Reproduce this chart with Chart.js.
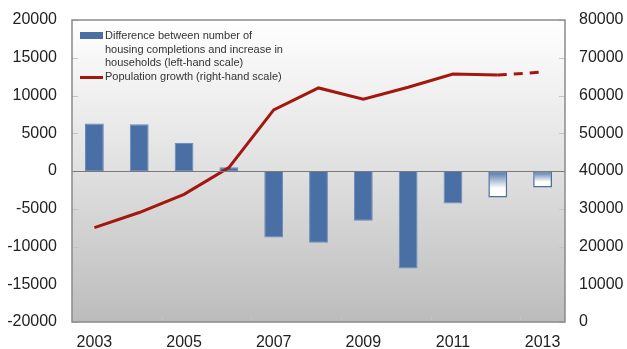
<!DOCTYPE html>
<html>
<head>
<meta charset="utf-8">
<script src="https://cdn.jsdelivr.net/npm/chart.js@4.4.0/dist/chart.umd.min.js"></script>
<style>
  html, body { margin: 0; padding: 0; background: #fff; }
  #wrap { position: relative; width: 627px; height: 349px; }
  #legend { position: absolute; left: 80px; top: 29px; font-family: "Liberation Sans", Arial, sans-serif; font-size: 11px; color: #333; line-height: 13.5px; }
  .row { position: relative; padding-left: 25px; }
  .sw { position: absolute; left: 0; }
</style>
</head>
<body>
<div id="wrap">
  <canvas id="chart" width="627" height="349"></canvas>
  <div id="legend">
    <div class="row"><span class="sw" style="top:3px;width:23px;height:7px;background:#4a6fa5;"></span>Difference between number of<br>housing completions and increase in<br>households (left-hand scale)</div>
    <div class="row"><span class="sw" style="top:6px;width:23px;height:3px;background:#a3170f;"></span>Population growth (right-hand scale)</div>
  </div>
</div>
<script>
const years = ['2003','2004','2005','2006','2007','2008','2009','2010','2011','2012','2013'];
// difference between housing completions and increase in households (left scale)
const housingDiff = [6300, 6200, 3700, 500, -8800, -9500, -6600, -12900, -4300, -3500, -2200];
// last two years are forecasts
const forecast = [false, false, false, false, false, false, false, false, false, true, true];
// population growth (right scale)
const popGrowth = [25000, 29000, 33800, 40900, 56200, 62000, 59000, 62200, 65700, 65400, 66200];
const leftTicks = [-20000, -15000, -10000, -5000, 0, 5000, 10000, 15000, 20000];
const rightTicks = [0, 10000, 20000, 30000, 40000, 50000, 60000, 70000, 80000];

const blue = '#4a6fa5';
const red = '#a3170f';
const font = { family: '"Liberation Sans", Arial, sans-serif', size: 16 };

const plotBg = {
    id: 'plotBg',
    beforeDraw(chart) {
        const { ctx, chartArea: a } = chart;
        const g = ctx.createLinearGradient(0, a.top, 0, a.bottom);
        g.addColorStop(0, '#ffffff');
        g.addColorStop(0.5, '#e0e0e0');
        g.addColorStop(1, '#bcbcbc');
        ctx.save();
        ctx.fillStyle = g;
        ctx.fillRect(a.left, a.top, a.right - a.left, a.bottom - a.top);
        ctx.restore();
    },
    afterDatasetsDraw(chart) {
        const { ctx, chartArea: a, scales } = chart;
        ctx.save();
        // small inner tick marks
        ctx.strokeStyle = '#c4c4c4';
        ctx.lineWidth = 1;
        scales.y.ticks.forEach(t => {
            const y = Math.round(scales.y.getPixelForValue(t.value)) + 0.5;
            ctx.beginPath(); ctx.moveTo(a.left, y); ctx.lineTo(a.left + 6, y); ctx.stroke();
        });
        scales.y2.ticks.forEach(t => {
            const y = Math.round(scales.y2.getPixelForValue(t.value)) + 0.5;
            ctx.beginPath(); ctx.moveTo(a.right - 6, y); ctx.lineTo(a.right, y); ctx.stroke();
        });
        for (let i = 1; i < years.length - 1; i += 2) {
            const x = Math.round((scales.x.getPixelForValue(i) + scales.x.getPixelForValue(i + 1)) / 2) + 0.5;
            ctx.beginPath(); ctx.moveTo(x, a.bottom); ctx.lineTo(x, a.bottom - 6); ctx.stroke();
        }
        // zero line
        const y0 = Math.round(scales.y.getPixelForValue(0)) + 0.5;
        ctx.strokeStyle = '#7a7a7a';
        ctx.beginPath(); ctx.moveTo(a.left, y0); ctx.lineTo(a.right, y0); ctx.stroke();
        // frame
        ctx.strokeStyle = '#8a8a8a';
        ctx.lineWidth = 1.5;
        ctx.strokeRect(a.left, a.top, a.right - a.left, a.bottom - a.top);
        ctx.restore();
    }
};

function barFill(context) {
    const chart = context.chart;
    const i = context.dataIndex;
    if (!forecast[i]) return blue;
    if (!chart.chartArea) return blue;
    const ys = chart.scales.y;
    const top = ys.getPixelForValue(0);
    const bot = ys.getPixelForValue(housingDiff[i]);
    const g = chart.ctx.createLinearGradient(0, top, 0, bot);
    g.addColorStop(0, blue);
    g.addColorStop(0.65, '#ffffff');
    g.addColorStop(1, '#ffffff');
    return g;
}

new Chart(document.getElementById('chart'), {
    data: {
        labels: years,
        datasets: [
            {
                type: 'line',
                label: 'Population growth (right-hand scale)',
                data: popGrowth,
                yAxisID: 'y2',
                borderColor: red,
                borderWidth: 3,
                pointRadius: 0,
                tension: 0,
                segment: {
                    borderDash: ctx => forecast[ctx.p1DataIndex] && forecast[ctx.p0DataIndex] ? [9, 7] : undefined
                },
                order: 0
            },
            {
                type: 'bar',
                label: 'Difference between number of housing completions and increase in households (left-hand scale)',
                data: housingDiff,
                yAxisID: 'y',
                backgroundColor: barFill,
                borderColor: ctx => forecast[ctx.dataIndex] ? blue : '#6a8bbb',
                borderWidth: ctx => forecast[ctx.dataIndex] ? 1.5 : 1,
                borderSkipped: false,
                barPercentage: 0.42,
                categoryPercentage: 1,
                order: 1
            }
        ]
    },
    options: {
        responsive: false,
        animation: false,
        layout: { padding: { top: 20, left: 0, right: 0, bottom: 0 } },
        plugins: { legend: { display: false }, tooltip: { enabled: false } },
        scales: {
            x: {
                offset: true,
                grid: { display: false, drawTicks: false },
                border: { display: false },
                ticks: {
                    color: '#222', font: font, padding: 11, autoSkip: false, maxRotation: 0,
                    callback: (v, i) => i % 2 === 0 ? years[i] : ''
                },
                afterFit: s => { s.height = 27; s.paddingLeft = 0; s.paddingRight = 0; }
            },
            y: {
                position: 'left',
                min: -20000, max: 20000,
                afterBuildTicks: s => { s.ticks = leftTicks.map(v => ({ value: v })); },
                grid: { display: false, drawTicks: false },
                border: { display: false },
                ticks: { color: '#222', font: font, padding: 15, callback: v => String(v) },
                afterFit: s => { s.width = 72; s.paddingTop = 0; s.paddingBottom = 0; }
            },
            y2: {
                position: 'right',
                min: 0, max: 80000,
                afterBuildTicks: s => { s.ticks = rightTicks.map(v => ({ value: v })); },
                grid: { display: false, drawTicks: false },
                border: { display: false },
                ticks: { color: '#222', font: font, padding: 14, callback: v => String(v) },
                afterFit: s => { s.width = 62; s.paddingTop = 0; s.paddingBottom = 0; }
            }
        }
    },
    plugins: [plotBg]
});
</script>
</body>
</html>
